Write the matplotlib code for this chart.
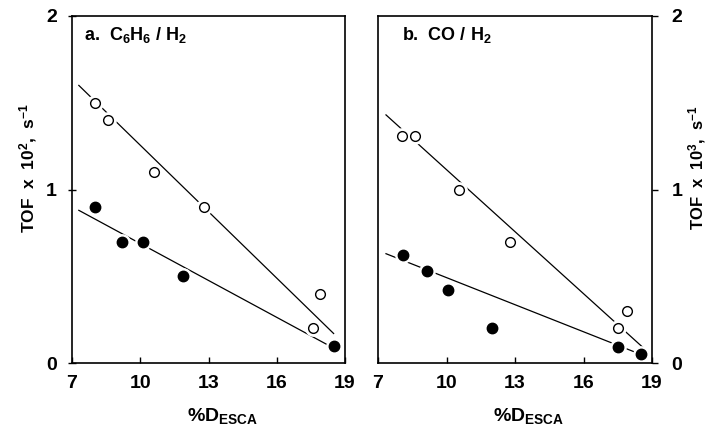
import matplotlib
matplotlib.use("Agg")
import matplotlib.pyplot as plt
import numpy as np

plt.rcParams['font.family'] = ['Liberation Sans Narrow', 'Liberation Sans', 'DejaVu Sans']
plt.rcParams['font.weight'] = 'bold'
plt.rcParams['mathtext.fontset'] = 'custom'
plt.rcParams['mathtext.bf'] = 'Liberation Sans:bold'
plt.rcParams['mathtext.rm'] = 'Liberation Sans:bold'
plt.rcParams['mathtext.it'] = 'Liberation Sans:bold'
plt.rcParams['mathtext.default'] = 'bf'

# Panel a: C6H6/H2 (TOF x 10^2)
a_open_x = [8.0, 8.6, 10.6, 12.8, 17.6, 17.9]
a_open_y = [1.50, 1.40, 1.10, 0.90, 0.20, 0.40]
a_fill_x = [8.0, 9.2, 10.1, 11.9, 18.5]
a_fill_y = [0.90, 0.70, 0.70, 0.50, 0.10]
a_open_line_x = [7.3, 18.5]
a_open_line_y = [1.60, 0.17]
a_fill_line_x = [7.3, 18.3]
a_fill_line_y = [0.88, 0.10]

# Panel b: CO/H2 (TOF x 10^3)
b_open_x = [8.05, 8.6, 10.55, 12.8, 17.5, 17.9]
b_open_y = [1.31, 1.31, 1.00, 0.70, 0.20, 0.30]
b_fill_x = [8.1, 9.15, 10.05, 12.0, 17.5, 18.5]
b_fill_y = [0.62, 0.53, 0.42, 0.20, 0.09, 0.05]
b_open_line_x = [7.35, 18.6]
b_open_line_y = [1.43, 0.09]
b_fill_line_x = [7.35, 18.5]
b_fill_line_y = [0.63, 0.05]

x_ticks = [7, 10, 13, 16, 19]
y_ticks = [0, 1, 2]

fig = plt.figure(figsize=(7.08, 4.33), dpi=100)
W, H = 708, 433
ax_a = fig.add_axes([72 / W, 1 - 363 / H, 273 / W, 347 / H])
ax_b = fig.add_axes([378 / W, 1 - 363 / H, 274 / W, 347 / H])


def draw_panel(ax, ox, oy, fx, fy, olx, oly, flx, fly, title, title_x, right):
    ax.plot(olx, oly, color='black', lw=0.9, zorder=1)
    ax.plot(flx, fly, color='black', lw=0.9, zorder=1)
    # white halo around each marker so the lines stop short of it
    ax.plot(ox, oy, ls='none', marker='o', ms=11, mfc='white', mec='white', zorder=2)
    ax.plot(fx, fy, ls='none', marker='o', ms=11, mfc='white', mec='white', zorder=2)
    ax.plot(ox, oy, ls='none', marker='o', ms=7, mfc='white', mec='black', mew=1.0, zorder=3)
    ax.plot(fx, fy, ls='none', marker='o', ms=7.5, mfc='black', mec='black', zorder=3)
    ax.set_xlim(7, 19)
    ax.set_ylim(0, 2)
    ax.set_xticks(x_ticks)
    ax.set_yticks(y_ticks)
    ax.set_xticklabels([str(t) for t in x_ticks])
    ax.set_yticklabels([str(t) for t in y_ticks])
    for s in ax.spines.values():
        s.set_linewidth(1.2)
    ax.tick_params(axis='x', direction='in', length=4, width=1, labelsize=14, pad=9)
    ax.tick_params(axis='y', direction='inout', length=6, width=1, labelsize=14, pad=8)
    if right:
        ax.yaxis.tick_right()
        ax.tick_params(axis='y', direction='out', length=4, pad=10)
    ax.text(title_x, 0.975, title, transform=ax.transAxes, ha='left', va='top',
            fontsize=13, fontfamily='Liberation Sans', fontweight='bold')
    ax.set_xlabel(r'%D$_{ESCA}$', fontsize=14, fontfamily='Liberation Sans',
                  fontweight='bold')
    ax.xaxis.set_label_coords(0.55, -0.125)


draw_panel(ax_a, a_open_x, a_open_y, a_fill_x, a_fill_y,
           a_open_line_x, a_open_line_y, a_fill_line_x, a_fill_line_y,
           r'a.  C$_6$H$_6$ / H$_2$', 0.045, False)
draw_panel(ax_b, b_open_x, b_open_y, b_fill_x, b_fill_y,
           b_open_line_x, b_open_line_y, b_fill_line_x, b_fill_line_y,
           r'b.  CO / H$_2$', 0.088, True)

fig.text(28 / W, 1 - 168 / H, r'TOF  x  10$^2$,  s$^{-1}$', rotation=90,
         ha='center', va='center', fontsize=12.5, fontfamily='Liberation Sans', fontweight='bold')
fig.text(697 / W, 1 - 168 / H, r'TOF  x  10$^3$,  s$^{-1}$', rotation=90,
         ha='center', va='center', fontsize=12, fontfamily='Liberation Sans', fontweight='bold')

fig.savefig('out.png', dpi=100)
